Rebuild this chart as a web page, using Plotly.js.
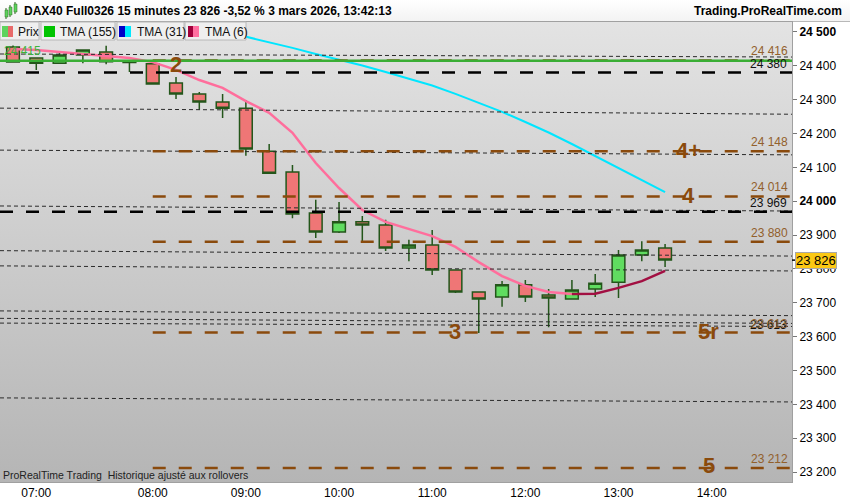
<!DOCTYPE html>
<html><head><meta charset="utf-8">
<script src="https://cdn.plot.ly/plotly-3.0.1.min.js"></script>
<style>
html,body{margin:0;padding:0;background:#fff;}
#wrap{position:relative;width:850px;height:500px;overflow:hidden;font-family:"Liberation Sans",Arial,sans-serif;}
#hdr{position:absolute;left:0;top:0;width:850px;height:21px;background:linear-gradient(#ffffff,#f3f3f3);border-bottom:1px solid #b8b8b8;}
#bg{position:absolute;left:0;top:22px;width:792px;height:460px;background:linear-gradient(#e3e3e3,#b5b5b5);}
#chart{position:absolute;left:0;top:0;width:850px;height:500px;}
</style></head><body>
<div id="wrap"><div id="hdr"></div><div id="bg"></div><div id="chart"></div></div>
<script>
// ---- data ----
const candleIndex = [0,1,2,3,4,5,6,7,8,9,10,11,12,13,14,15,16,17,18,19,20,21,22,23,24,25,26,27,28];
const openP  = [24456,24423,24408,24432,24441,24411,24406,24349,24317,24293,24275,24148,24086,23965,23909,23939,23930,23862,23871,23797,23732,23717,23753,23723,23711,23741,23761,23841,23862];
const highP  = [24460,24425,24441,24448,24459,24413,24417,24367,24323,24317,24299,24169,24107,24004,23998,23956,23945,23886,23915,23798,23733,23764,23767,23741,23767,23785,23856,23882,23874];
const lowP   = [24409,24388,24406,24408,24405,24382,24344,24302,24270,24246,24134,24081,23950,23891,23906,23880,23853,23823,23782,23729,23611,23688,23702,23628,23710,23717,23714,23823,23806];
const closeP = [24411,24408,24432,24447,24412,24410,24346,24317,24293,24275,24154,24083,23962,23909,23939,23930,23862,23871,23797,23732,23711,23753,23717,23714,23738,23758,23841,23856,23826];
const tma6   = [24450,24447,24441,24435,24431,24423,24411,24388,24358,24335,24296,24261,24202,24113,24039,23974,23939,23918,23897,23865,23820,23779,23750,23732,23726,23727,23744,23764,23794];
const tma31  = [null,null,null,null,null,null,null,null,24519,24503,24485,24469,24453,24435,24419,24401,24382,24361,24342,24317,24290,24264,24234,24203,24169,24134,24098,24063,24027];
const tma155Value = 24415;

const timeTickPos = [1,6,10,14,18,22,26,30];
const timeTickText = ["07:00","08:00","09:00","10:00","11:00","12:00","13:00","14:00"];
const yTicks = [23200,23300,23400,23500,23600,23700,23800,23900,24000,24100,24200,24300,24400,24500];
const boldTicks = [24000,24500];

const brownLevels = [24416,24148,24014,23880,23612,23212];
const brownLabels = ["24 416","24 148","24 014","23 880","23 613","23 212"];
const brownStartIndex = 6;
const blackLevels = [24380,23969];
const blackLabels = ["24 380","23 969"];
const extraBlackLevels = [23612];
const extraBlackLabels = ["23 613"];
const dottedStart = [24435,24275,24151,23986,23854,23809,23676,23654,23640,23419];
const dottedEnd   = [24426,24257,24137,23971,23838,23794,23662,23639,23630,23407];

const bigLabels = ["2","4+","4","3","5r","5"];
const bigLabelX = [7,29,29,19,29.85,29.9];
const bigLabelLevel = [24416,24148,24014,23612,23612,23212];
const bigLabelShift = [-4,1,1,1,1,2];

// ---- layout helpers ----
const FONT = '"Liberation Sans", Arial, sans-serif';
const xMin = -0.558, xMax = 33.45, yMin = 23170.5, yMax = 24529.5;
const PW = 792, PT = 22, PB = 482;
const px = p => p / PW;
const py = p => (PB - p) / (PB - PT);
const fmt = v => Math.floor(v/1000) + ' ' + String(v % 1000).padStart(3,'0');

const BROWN = '#8a4a0c', BROWN_TXT = '#92602c';

const traces = [];
traces.push({
  type:'candlestick', x:candleIndex, open:openP, high:highP, low:lowP, close:closeP,
  increasing:{line:{color:'#23561a',width:1.5}, fillcolor:'#60dc60'},
  decreasing:{line:{color:'#23561a',width:1.5}, fillcolor:'#ef7676'},
  whiskerwidth:0, hoverinfo:'skip', showlegend:false
});
// TMA(6) split falling / rising
const fall = tma6.map((v,i)=> (i===0 || v <= tma6[i-1] || (i+1<tma6.length && tma6[i+1] <= v)) ? v : null);
const rise = tma6.map((v,i)=> ((i>0 && v > tma6[i-1]) || (i+1<tma6.length && tma6[i+1] > v)) ? v : null);
traces.push({type:'scatter',mode:'lines',x:candleIndex,y:fall,line:{color:'#ff6e9c',width:2.5},hoverinfo:'skip',showlegend:false});
traces.push({type:'scatter',mode:'lines',x:candleIndex,y:rise,line:{color:'#a20f42',width:2.5},hoverinfo:'skip',showlegend:false});
traces.push({type:'scatter',mode:'lines',x:candleIndex,y:tma31,line:{color:'#00e6ff',width:2},hoverinfo:'skip',showlegend:false,connectgaps:false});

const shapes = [];
const ann = [];
// dotted trend lines
dottedStart.forEach((v,i)=>{
  shapes.push({type:'line',xref:'paper',yref:'y',x0:0,x1:1,y0:v,y1:dottedEnd[i],line:{color:'#2a2a2a',width:1,dash:'4px,3px'}});
});
// black dashed levels
blackLevels.forEach((v,i)=>{
  shapes.push({type:'line',xref:'x',yref:'y',x0:xMin,x1:xMax,y0:v,y1:v,line:{color:'#000',width:2.5,dash:'13px,13px'}});
  ann.push({xref:'paper',yref:'y',x:1,y:v,xanchor:'right',yanchor:'middle',xshift:-3,yshift:9,text:blackLabels[i],showarrow:false,font:{family:FONT,size:12,color:'#111'}});
});
// brown levels
brownLevels.forEach((v,i)=>{
  shapes.push({type:'line',xref:'x',yref:'y',x0:brownStartIndex,x1:xMax,y0:v,y1:v,line:{color:BROWN,width:2.5,dash:'13px,13px'}});
});
extraBlackLevels.forEach((v,i)=>{
  ann.push({xref:'paper',yref:'y',x:1,y:v,xanchor:'right',yanchor:'middle',xshift:-3,yshift:8,text:extraBlackLabels[i],showarrow:false,font:{family:FONT,size:12,color:'#111'}});
});
brownLevels.forEach((v,i)=>{
  ann.push({xref:'paper',yref:'y',x:1,y:v,xanchor:'right',yanchor:'middle',xshift:-2,yshift:9,text:brownLabels[i],showarrow:false,font:{family:FONT,size:12,color:BROWN_TXT}});
});
// TMA155 green line
shapes.push({type:'line',xref:'paper',yref:'y',x0:0,x1:1,y0:tma155Value,y1:tma155Value,line:{color:'#3aae35',width:2.5}});
ann.push({xref:'paper',yref:'y',x:px(2),y:tma155Value,xanchor:'left',yanchor:'middle',yshift:10,text:fmt(tma155Value),showarrow:false,font:{family:FONT,size:12,color:'#3cb43c'}});
// big labels
bigLabels.forEach((t,i)=>{
  ann.push({xref:'x',yref:'y',x:bigLabelX[i],y:bigLabelLevel[i],xanchor:'center',yanchor:'middle',yshift:bigLabelShift[i],text:'<b>'+t+'</b>',showarrow:false,font:{family:FONT,size:22,color:BROWN}});
});
// legend boxes
const boxes = [[0,39],[41,115],[117,184],[185,246]];
boxes.forEach(b=>shapes.push({type:'rect',xref:'paper',yref:'paper',x0:px(b[0]),x1:px(b[1]),y0:py(40),y1:py(22),fillcolor:'#efefef',line:{color:'#b8b8b8',width:1}}));
const sw = [[2,8,'#5ed35e'],[8,13,'#e86a6a'],[44,55,'#00c400'],[119,125,'#0000c8'],[125,131,'#00e8ff'],[188,193,'#a0003a'],[193,199,'#ff6fa0']];
sw.forEach(s=>shapes.push({type:'rect',xref:'paper',yref:'paper',x0:px(s[0]),x1:px(s[1]),y0:py(37),y1:py(26),fillcolor:s[2],line:{width:0}}));
const legTxt = [["Prix",16],["TMA (155)",58],["TMA (31)",135],["TMA (6)",203]];
legTxt.forEach(l=>ann.push({xref:'paper',yref:'paper',x:px(l[1]),y:py(31.5),xanchor:'left',yanchor:'middle',text:l[0],showarrow:false,font:{family:FONT,size:12,color:'#111'}}));
// header icon
const icon = [[5,7,10,17],[9,11,7,15],[14,16,4,12]];
icon.forEach(c=>{
  shapes.push({type:'line',xref:'paper',yref:'paper',x0:px((c[0]+c[1])/2),x1:px((c[0]+c[1])/2),y0:py(c[3]+2),y1:py(c[2]-2),line:{color:'#2f6a20',width:1}});
  shapes.push({type:'rect',xref:'paper',yref:'paper',x0:px(c[0]),x1:px(c[1]+1),y0:py(c[3]),y1:py(c[2]),fillcolor:'#5ed35e',line:{color:'#2f6a20',width:0.5}});
});
ann.push({xref:'paper',yref:'paper',x:px(22),y:py(11),xanchor:'left',yanchor:'middle',text:'<b>DAX40 Full0326 15 minutes 23 826 -3,52 % 3 mars 2026, 13:42:13</b>',showarrow:false,font:{family:FONT,size:12,color:'#000'}});
ann.push({xref:'paper',yref:'paper',x:px(844),y:py(11),xanchor:'right',yanchor:'middle',text:'<b>Trading.ProRealTime.com</b>',showarrow:false,font:{family:FONT,size:12,color:'#000'}});
// footer text
ann.push({xref:'paper',yref:'paper',x:px(1),y:py(475),xanchor:'left',yanchor:'middle',text:'ProRealTime Trading  Historique ajusté aux rollovers',showarrow:false,font:{family:FONT,size:10.5,color:'#222'}});
// current price
const last = closeP[closeP.length-1];
shapes.push({type:'line',xref:'paper',yref:'y',x0:1,x1:px(798),y0:last,y1:last,line:{color:'#000',width:1.5}});
ann.push({xref:'paper',yref:'y',x:px(795),y:last,xanchor:'left',yanchor:'middle',text:fmt(last),showarrow:false,bgcolor:'#fbc814',bordercolor:'#a8a8a8',borderwidth:1,borderpad:0,font:{family:FONT,size:13,color:'#000'}});

const layout = {
  width:850,height:500,
  margin:{l:0,r:58,t:PT,b:500-PB,pad:0},
  paper_bgcolor:'rgba(0,0,0,0)', plot_bgcolor:'rgba(0,0,0,0)',
  showlegend:false, boxgap:0.22,
  font:{family:FONT,size:12,color:'#000'},
  xaxis:{range:[xMin,xMax],rangeslider:{visible:false},tickvals:timeTickPos,ticktext:timeTickText,
    showgrid:false,zeroline:false,showline:true,linecolor:'#a0a0a0',linewidth:1,mirror:true,ticks:'',tickfont:{size:12,color:'#000'},fixedrange:true},
  yaxis:{range:[yMin,yMax],side:'right',tickvals:yTicks,
    ticktext:yTicks.map(v=>boldTicks.includes(v)?'<b>'+fmt(v)+'</b>':fmt(v)),
    showgrid:false,zeroline:false,showline:true,linecolor:'#a0a0a0',linewidth:1,mirror:true,
    ticks:'outside',ticklen:4,tickcolor:'#777',tickfont:{size:12,color:'#000'},fixedrange:true},
  shapes:shapes, annotations:ann
};
Plotly.newPlot('chart',traces,layout,{staticPlot:true,displayModeBar:false});
</script>
</body></html>
